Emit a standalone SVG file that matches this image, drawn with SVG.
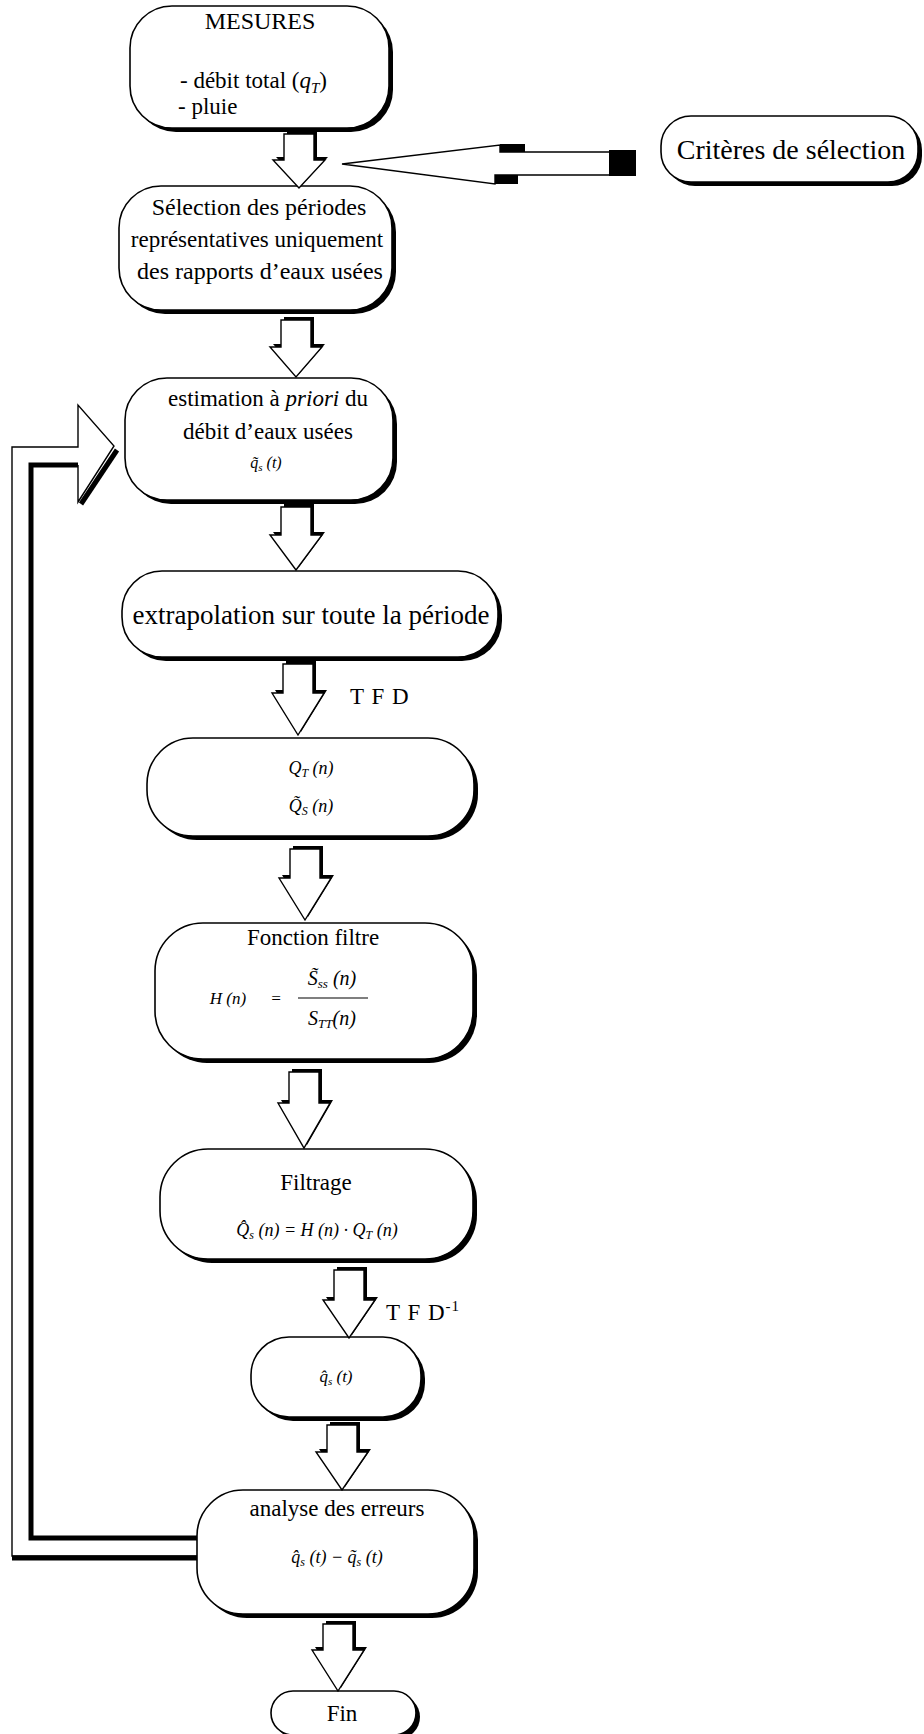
<svg xmlns="http://www.w3.org/2000/svg" width="924" height="1734" viewBox="0 0 924 1734">
<style>
.box{fill:#fff;stroke:#000;stroke-width:1.6}
.sh{fill:#000}
.t{font-family:"Liberation Serif","Times New Roman",serif;font-size:23px;fill:#000;text-anchor:middle}
.tl{font-family:"Liberation Serif","Times New Roman",serif;font-size:23px;fill:#000}
.m{font-family:"Liberation Serif","Times New Roman",serif;font-style:italic;font-size:17px;fill:#000;text-anchor:middle}
.arr{fill:#fff;stroke:#000;stroke-width:1.4;stroke-linejoin:miter}
.ash{fill:#000}
.thin{fill:none;stroke:#000;stroke-width:1.4}
.thick{fill:none;stroke:#000;stroke-width:5}
</style>

<g id="n-mesures">
<rect class="sh" x="134" y="10" width="259" height="122" rx="42"/>
<rect class="box" x="130" y="6" width="259" height="122" rx="42"/>
<text class="t" x="260" y="29" style="font-size:24px">MESURES</text>
<text class="tl" x="180" y="88">- débit total (<tspan font-style="italic">q</tspan><tspan font-style="italic" font-size="15" dy="5">T</tspan><tspan dy="-5">)</tspan></text>
<text class="tl" x="178" y="114">- pluie</text>
</g>

<g id="n-criteres">
<rect class="sh" x="665" y="120" width="257" height="66" rx="30"/>
<rect class="box" x="661" y="116" width="257" height="66" rx="30"/>
<text class="t" x="791" y="159" style="font-size:28px">Critères de sélection</text>
</g>

<g id="n-selection">
<rect class="sh" x="123" y="190" width="273" height="124" rx="42"/>
<rect class="box" x="119" y="186" width="273" height="124" rx="42"/>
<text class="t" x="259" y="215" style="font-size:24px">Sélection des périodes</text>
<text class="t" x="257" y="247">représentatives uniquement</text>
<text class="t" x="260" y="279" style="font-size:24px">des rapports d’eaux usées</text>
</g>

<g id="n-estimation">
<rect class="sh" x="129" y="382" width="268" height="122" rx="42"/>
<rect class="box" x="125" y="378" width="268" height="122" rx="42"/>
<text class="t" x="268" y="406">estimation à <tspan font-style="italic">priori</tspan> du</text>
<text class="t" x="268" y="439">débit d’eaux usées</text>
<text class="m" x="266" y="468" style="font-size:16px">q̃<tspan font-size="11" dy="3">s</tspan><tspan dy="-3"> (t)</tspan></text>
</g>

<g id="n-extrapolation">
<rect class="sh" x="126" y="575" width="376" height="86" rx="40"/>
<rect class="box" x="122" y="571" width="376" height="86" rx="40"/>
<text class="t" x="311" y="624" style="font-size:27px">extrapolation sur toute la période</text>
</g>

<g id="n-tfd">
<rect class="sh" x="151" y="742" width="327" height="98" rx="46"/>
<rect class="box" x="147" y="738" width="327" height="98" rx="46"/>
<text class="m" x="311" y="774" style="font-size:18px">Q<tspan font-size="12" dy="3">T</tspan><tspan dy="-3"> (n)</tspan></text>
<text class="m" x="311" y="812" style="font-size:18px">Q̃<tspan font-size="12" dy="3">S</tspan><tspan dy="-3"> (n)</tspan></text>
</g>

<g id="n-fonction">
<rect class="sh" x="159" y="927" width="318" height="136" rx="48"/>
<rect class="box" x="155" y="923" width="318" height="136" rx="48"/>
<text class="t" x="313" y="945">Fonction filtre</text>
<text class="m" x="228" y="1004">H (n)</text>
<text class="m" x="276" y="1004">=</text>
<text class="m" x="332" y="985" style="font-size:20px">S̃<tspan font-size="13" dy="3">ss</tspan><tspan dy="-3"> (n)</tspan></text>
<line x1="298" y1="998" x2="368" y2="998" stroke="#000" stroke-width="1.2"/>
<text class="m" x="332" y="1025" style="font-size:20px">S<tspan font-size="13" dy="3">TT</tspan><tspan dy="-3">(n)</tspan></text>
</g>

<g id="n-filtrage">
<rect class="sh" x="164" y="1153" width="313" height="110" rx="48"/>
<rect class="box" x="160" y="1149" width="313" height="110" rx="48"/>
<text class="t" x="316" y="1190">Filtrage</text>
<text class="m" x="317" y="1236" style="font-size:18px">Q̂<tspan font-size="12" dy="3">s</tspan><tspan dy="-3"> (n)  =  H (n) · Q</tspan><tspan font-size="12" dy="3">T</tspan><tspan dy="-3"> (n)</tspan></text>
</g>

<g id="n-qhat">
<rect class="sh" x="255" y="1341" width="170" height="80" rx="38"/>
<rect class="box" x="251" y="1337" width="170" height="80" rx="38"/>
<text class="m" x="336" y="1382">q̂<tspan font-size="11" dy="3">s</tspan><tspan dy="-3"> (t)</tspan></text>
</g>

<g id="n-analyse">
<rect class="sh" x="201" y="1494" width="277" height="124" rx="46"/>
<rect class="box" x="197" y="1490" width="277" height="124" rx="46"/>
<text class="t" x="337" y="1516">analyse des erreurs</text>
<text class="m" x="337" y="1563" style="font-size:18px">q̂<tspan font-size="12" dy="3">s</tspan><tspan dy="-3"> (t) − q̃</tspan><tspan font-size="12" dy="3">s</tspan><tspan dy="-3"> (t)</tspan></text>
</g>

<g id="n-fin">
<rect class="sh" x="275" y="1695" width="145" height="44" rx="22"/>
<rect class="box" x="271" y="1691" width="145" height="44" rx="22"/>
<text class="t" x="342" y="1721">Fin</text>
</g>

<g id="connectors">
<g transform="translate(299,134)"><path class="ash" transform="translate(3,-3)" d="M-15,0H15V26H26L0,54L-26,26H-15Z"/><path class="arr" d="M-15,0H15V26H26L0,54L-26,26H-15Z"/></g>
<g transform="translate(296,320)"><path class="ash" transform="translate(3,-3)" d="M-15,0H15V27H26L0,57L-26,27H-15Z"/><path class="arr" d="M-15,0H15V27H26L0,57L-26,27H-15Z"/></g>
<g transform="translate(296,507)"><path class="ash" transform="translate(3,-3)" d="M-15,0H15V28H26L0,63L-26,28H-15Z"/><path class="arr" d="M-15,0H15V28H26L0,63L-26,28H-15Z"/></g>
<g transform="translate(298,664)"><path class="ash" transform="translate(3,-3)" d="M-15,0H15V29H26L0,71L-26,29H-15Z"/><path class="arr" d="M-15,0H15V29H26L0,71L-26,29H-15Z"/></g>
<g transform="translate(305,849)"><path class="ash" transform="translate(3,-3)" d="M-15,0H15V29H26L0,71L-26,29H-15Z"/><path class="arr" d="M-15,0H15V29H26L0,71L-26,29H-15Z"/></g>
<g transform="translate(304,1072)"><path class="ash" transform="translate(3,-3)" d="M-15,0H15V31H26L0,76L-26,31H-15Z"/><path class="arr" d="M-15,0H15V31H26L0,76L-26,31H-15Z"/></g>
<g transform="translate(349,1270)"><path class="ash" transform="translate(3,-3)" d="M-15,0H15V30H26L0,68L-26,30H-15Z"/><path class="arr" d="M-15,0H15V30H26L0,68L-26,30H-15Z"/></g>
<g transform="translate(342,1425)"><path class="ash" transform="translate(3,-3)" d="M-15,0H15V27H26L0,65L-26,27H-15Z"/><path class="arr" d="M-15,0H15V27H26L0,65L-26,27H-15Z"/></g>
<g transform="translate(338,1624)"><path class="ash" transform="translate(3,-3)" d="M-15,0H15V26H26L0,67L-26,26H-15Z"/><path class="arr" d="M-15,0H15V26H26L0,67L-26,26H-15Z"/></g>

<g id="c-criteres">
<path class="arr" d="M342,164 L500,145 V152 H611 V175 H495 V184 Z"/>
<rect class="ash" x="500" y="144" width="25" height="8"/>
<rect class="ash" x="495" y="175" width="23" height="9"/>
<rect class="ash" x="609" y="150" width="27" height="26"/>
</g>

<g id="c-loop">
<path class="thin" d="M197,1556 H12 V447 H78 V405 L114,446 L78,502 V465"/>
<path class="thick" d="M197,1538 H31 V465 H78"/>
<line x1="81" y1="504" x2="117" y2="450" stroke="#000" stroke-width="5"/>
<line x1="12" y1="1558" x2="197" y2="1558" stroke="#000" stroke-width="5"/>
</g>

<text class="tl" x="350" y="704" letter-spacing="1">T F D</text>
<text class="tl" x="386" y="1320" letter-spacing="1">T F D<tspan font-size="15" dy="-9">-1</tspan></text>
</g>
</svg>
